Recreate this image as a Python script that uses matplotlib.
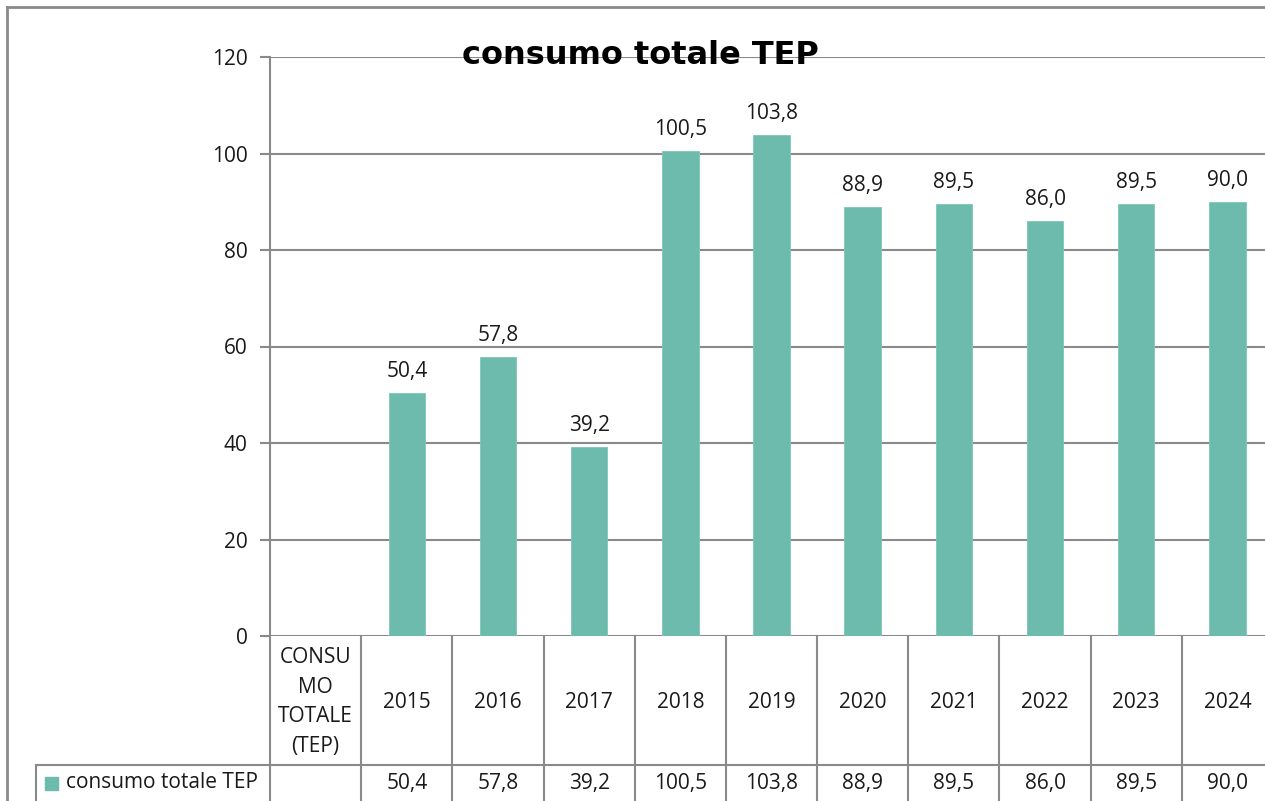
import matplotlib
matplotlib.use("Agg")
import matplotlib.pyplot as plt
from matplotlib.patches import Rectangle
from matplotlib.transforms import blended_transform_factory

plt.rcParams['font.family'] = ['Open Sans', 'DejaVu Sans']

title = "consumo totale TEP"
series_name = "consumo totale TEP"
categories = ["CONSU\nMO\nTOTALE\n(TEP)", "2015", "2016", "2017", "2018", "2019",
              "2020", "2021", "2022", "2023", "2024"]
values = [None, 50.4, 57.8, 39.2, 100.5, 103.8, 88.9, 89.5, 86.0, 89.5, 90.0]
yticks = [0, 20, 40, 60, 80, 100, 120]

W, H = 1265, 801
fig = plt.figure(figsize=(W / 100, H / 100), dpi=100)
GRAY = "#8a8a8a"
BAR = "#6cbbad"
TXT = "#1a1a1a"
FS = 15

# axes geometry in pixels
x0, x1 = 270, 1273
y_top, y_bot = 57, 636
ax = fig.add_axes([x0 / W, 1 - y_bot / H, (x1 - x0) / W, (y_bot - y_top) / H])

n = len(categories)
xs = list(range(n))
bx = [x for x, v in zip(xs, values) if v is not None]
bv = [v for v in values if v is not None]
ax.bar(bx, bv, width=0.4, color=BAR, edgecolor="#7fc6b9", linewidth=0.6, zorder=3)

def fmt(v):
    return ("%.1f" % v).replace(".", ",")

for x, v in zip(bx, bv):
    ax.annotate(fmt(v), (x, v), xytext=(0, 8), textcoords="offset points",
                ha="center", va="bottom", fontsize=FS, color=TXT, zorder=4)

ax.set_xlim(-0.5, n - 0.5)
ax.set_ylim(0, 120)
ax.set_yticks(yticks)
ax.set_yticklabels([str(t) for t in yticks], fontsize=FS, color=TXT)
ax.set_xticks([])
ax.tick_params(axis="y", length=7, width=1.5, color=GRAY, pad=9)
ax.grid(axis="y", color=GRAY, linewidth=1.5, zorder=0)
for s in ["top", "right", "bottom"]:
    ax.spines[s].set_visible(False)
ax.spines["left"].set_color(GRAY)
ax.spines["left"].set_linewidth(1.5)
ax.set_axisbelow(True)

# title
fig.text(640 / W, 1 - 55 / H, title, ha="center", va="center", fontsize=23,
         fontweight="bold", color="black", family="DejaVu Sans")

# data table
tr = blended_transform_factory(ax.transData, ax.transAxes)
ph = y_bot - y_top
row1 = -(765 - y_bot) / ph
bottom = -(830 - y_bot) / ph
lw = 1.5
ax.plot([-0.5, -0.5], [0, bottom], color=GRAY, lw=lw, transform=tr, clip_on=False)
for k in range(n):
    ax.plot([k + 0.5, k + 0.5], [0, bottom], color=GRAY, lw=lw, transform=tr, clip_on=False)
ax.plot([-0.5, n - 0.5], [row1, row1], color=GRAY, lw=lw, transform=tr, clip_on=False)

# legend cell
legend_left = 36
fig.add_artist(plt.Line2D([legend_left / W, x0 / W], [1 - 765 / H, 1 - 765 / H],
                          color=GRAY, lw=lw))
fig.add_artist(plt.Line2D([legend_left / W, legend_left / W], [1 - 765 / H, 0],
                          color=GRAY, lw=lw))
fig.add_artist(Rectangle((45 / W, 1 - 790 / H), 13 / W, 13 / H, color=BAR,
                         transform=fig.transFigure))
fig.text(66 / W, 1 - 783 / H, series_name, ha="left", va="center", fontsize=FS,
         color=TXT)

# header texts
hy = -(702 - y_bot) / ph
for x, c in zip(xs, categories):
    ax.text(x, hy, c, ha="center", va="center", fontsize=FS, color=TXT,
            linespacing=1.55, transform=tr, clip_on=False)
# data row texts
dy = -(783 - y_bot) / ph
for x, v in zip(xs, values):
    if v is not None:
        ax.text(x, dy, fmt(v), ha="center", va="center", fontsize=FS,
                color=TXT, transform=tr, clip_on=False)

# outer border
fig.add_artist(plt.Line2D([7 / W, 7 / W], [0, 1 - 7 / H], color=GRAY, lw=2))
fig.add_artist(plt.Line2D([7 / W, 1], [1 - 7 / H, 1 - 7 / H], color=GRAY, lw=2))

fig.savefig("out.png", dpi=100)
